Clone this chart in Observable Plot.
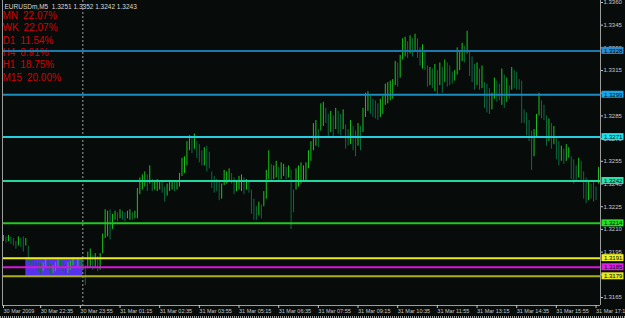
<!DOCTYPE html>
<html><head><meta charset="utf-8">
<script src="https://cdn.jsdelivr.net/npm/d3@7"></script>
<script src="https://cdn.jsdelivr.net/npm/@observablehq/plot@0.6"></script>
<style>html,body{margin:0;padding:0;background:#070c0a;overflow:hidden}</style>
</head><body><div id="chart"></div>
<script>
// ---- data ----
const symbol = "EURUSDm,M5";
const lastBar = ["1.3251", "1.3352", "1.3242", "1.3243"];
const timeframes = ["MN", "WK", "D1", "H4", "H1", "M15"];
const percents = ["22.07%", "22.07%", "11.54%", "8.91%", "18.75%", "20.00%"];

// bar times: minutes from 30 Mar 00:00, M5 bars starting 30 Mar 21:20
const firstBarMinute = 1280;
const barStep = 5;
// bar highs / lows in pips (3206 = 1.3206)
const highs = [
 3206,3205,3206,3205,3204,3202,3205,3204,3205,3204,
 3199,3191,3190,3189,3188,3187,3188,3190,3189,3187,
 3186,3188,3191,3190,3189,3187,3188,3189,3191,3190,
 3191,3190,3189,3186,3195,3197,3193,3194,3192,3194,
 3207,3223,3222,3223,3220,3222,3221,3223,3222,3221,
 3222,3223,3221,3222,3237,3244,3246,3248,3246,3252,
 3243,3242,3243,3242,3241,3238,3240,3241,3242,3241,
 3242,3247,3257,3258,3268,3272,3270,3273,3268,3266,
 3262,3264,3265,3261,3248,3245,3243,3241,3240,3249,
 3248,3250,3247,3244,3242,3245,3246,3244,3243,3241,
 3236,3230,3225,3228,3226,3235,3249,3262,3253,3252,
 3255,3251,3254,3253,3251,3252,3249,3236,3250,3252,
 3254,3252,3254,3262,3268,3280,3282,3276,3293,3294,
 3290,3286,3288,3285,3290,3288,3286,3289,3279,3276,
 3282,3278,3275,3280,3278,3290,3300,3301,3298,3296,
 3295,3293,3296,3298,3306,3307,3308,3309,3321,3320,
 3325,3336,3337,3334,3338,3336,3339,3336,3330,3332,
 3328,3318,3317,3316,3319,3315,3320,3317,3322,3320,
 3318,3314,3315,3330,3328,3333,3331,3341,3328,3324,
 3319,3320,3316,3318,3307,3306,3303,3300,3310,3308,
 3306,3316,3312,3310,3305,3317,3315,3314,3309,3308,
 3289,3287,3282,3275,3276,3286,3300,3295,3292,3285,
 3283,3280,3278,3270,3268,3265,3263,3266,3264,3258,
 3256,3252,3257,3255,3248,3244,3242,3240,3241,3238,
 3251];
const lows = [
 3202,3201,3202,3200,3199,3197,3199,3198,3195,3199,
 3188,3186,3185,3184,3182,3180,3182,3185,3183,3180,
 3181,3182,3185,3184,3182,3180,3181,3183,3186,3184,
 3185,3184,3183,3173,3184,3185,3183,3184,3182,3183,
 3194,3204,3205,3203,3210,3216,3215,3217,3216,3215,
 3217,3216,3216,3217,3217,3233,3236,3238,3235,3240,
 3235,3236,3235,3236,3234,3228,3232,3235,3236,3235,
 3236,3238,3245,3247,3252,3262,3260,3263,3257,3254,
 3252,3252,3248,3250,3237,3234,3235,3229,3230,3239,
 3240,3241,3240,3233,3235,3236,3235,3233,3236,3234,
 3220,3216,3216,3219,3217,3225,3230,3243,3242,3243,
 3244,3242,3243,3245,3243,3244,3210,3221,3236,3238,
 3240,3242,3241,3250,3255,3262,3265,3264,3275,3278,
 3280,3271,3274,3270,3276,3273,3272,3276,3263,3265,
 3266,3262,3258,3265,3262,3274,3284,3288,3286,3284,
 3283,3282,3284,3286,3292,3293,3295,3296,3305,3304,
 3310,3322,3324,3323,3326,3324,3327,3323,3318,3316,
 3315,3304,3305,3303,3301,3299,3305,3300,3307,3304,
 3305,3306,3308,3312,3315,3321,3320,3326,3311,3307,
 3302,3305,3302,3303,3290,3287,3286,3289,3296,3294,
 3295,3292,3290,3294,3296,3302,3303,3302,3302,3280,
 3280,3272,3268,3249,3258,3271,3285,3283,3282,3265,
 3268,3263,3266,3256,3252,3255,3253,3255,3257,3243,
 3240,3242,3244,3241,3230,3227,3229,3230,3228,3229,
 3240];

const levelPrices = [1.3328, 1.3299, 1.3271, 1.3242, 1.3214, 1.3191, 1.3185, 1.3179];
const boxTimes = [1325, 1440];          // 30 Mar 22:05 .. 31 Mar 00:00
const boxPrices = [1.3179, 1.3191];
const daySeparator = 1440;              // 31 Mar 00:00
const priceTicks = [1.3360,1.3345,1.3330,1.3315,1.3300,1.3285,1.3270,1.3255,1.3240,1.3225,1.3210,1.3195,1.3180,1.3165];
const timeTicks = [1280,1355,1435,1515,1595,1675,1755,1835,1915,1995,2075,2155,2235,2315,2395,2475];
const timeLabels = ["30 Mar 2009","30 Mar 22:35","30 Mar 23:55","31 Mar 01:15","31 Mar 02:35","31 Mar 03:55",
  "31 Mar 05:15","31 Mar 06:35","31 Mar 07:55","31 Mar 09:15","31 Mar 10:35","31 Mar 11:55",
  "31 Mar 13:15","31 Mar 14:35","31 Mar 15:55","31 Mar 17:15"];

// ---- styles ----
const lineColors = ["#1b7aab","#1a8cc0","#24cfe0","#1fd9a0","#22c922","#ecec14","#dc14dc","#aeae12"];
const boxColors  = ["#2a8fd2","#12aaec","#18e2ee","#2ee0aa","#26e026","#f0f028","#e020e0","#e6e624"];
const upColor = "#1cc41c", downColor = "#0d6a42";
const axisColor = "#c8c8c8", borderColor = "#9c9c9c";

// ---- derived tables ----
const bars = highs.map((h, i) => ({
  t: firstBarMinute + barStep * i,
  hi: 1 + h / 10000,
  lo: 1 + lows[i] / 10000,
  up: i === 0 || (h + lows[i]) >= (highs[i - 1] + lows[i - 1])
}));
const xDomain = [1278, 2484];
const yDomain = [1.31597, 1.33613];
const labelMap = new Map(timeTicks.map((t, i) => [t, timeLabels[i]]));
const boxRow = [{x1: boxTimes[0], x2: boxTimes[1], y1: boxPrices[0], y2: boxPrices[1]}];
const perfText = timeframes.map((tf, i) => tf + "\u2002" + percents[i]).join("\n");
const headerText = symbol + "  " + lastBar.join(" ");

const plot = Plot.plot({
  width: 625, height: 318,
  marginLeft: 2, marginRight: 25, marginTop: 0, marginBottom: 13,
  style: {background: "#070c0a", color: axisColor, fontFamily: "'Liberation Sans', Arial, sans-serif", overflow: "visible"},
  x: {type: "linear", domain: xDomain},
  y: {domain: yDomain},
  marks: [
    Plot.rect(boxRow, {x1: "x1", x2: "x2", y1: "y1", y2: "y2", fill: "#5533ee"}),
    Plot.ruleX([daySeparator], {stroke: "#a0a0a0", strokeDasharray: "2,2"}),
    Plot.ruleX(bars.filter(d => d.up), {x: "t", y1: "lo", y2: "hi", stroke: upColor, strokeWidth: 1}),
    Plot.ruleX(bars.filter(d => !d.up), {x: "t", y1: "lo", y2: "hi", stroke: downColor, strokeWidth: 1}),
    Plot.text([headerText], {frameAnchor: "top-left", dx: 2, dy: 3.5, fontSize: 6.5, fill: "#d8d8d8"}),
    Plot.text([perfText], {frameAnchor: "top-left", dx: 0, dy: 9.5, fontSize: 10, lineHeight: 1.24, fill: "#d40000"}),
    ...levelPrices.map((v, i) => Plot.ruleY([v], {stroke: lineColors[i], strokeWidth: 2})),
    Plot.ruleX(xDomain, {stroke: borderColor}),
    Plot.ruleY([yDomain[0]], {stroke: borderColor}),
    Plot.ruleY([yDomain[0]], {dy: 11.5, insetLeft: -2, insetRight: -25, stroke: "#d0d0d0", strokeDasharray: "1,1", strokeWidth: 1.5}),
    Plot.axisY(priceTicks, {anchor: "right", tickFormat: d => d.toFixed(4), tickSize: 2, tickPadding: 1, fontSize: 6}),
    Plot.axisX(timeTicks, {anchor: "bottom", tickFormat: d => labelMap.get(d), textAnchor: "start", tickSize: 3, tickPadding: 0.5, fontSize: 5.5}),
    ...levelPrices.map((v, i) => Plot.rect([v], {x1: () => xDomain[1], x2: () => xDomain[1], y1: d => d, y2: d => d,
        insetLeft: 1.5, insetRight: -23.5, insetTop: -3.5, insetBottom: -3.5, fill: boxColors[i]})),
    Plot.text(levelPrices, {x: () => xDomain[1], y: d => d, text: d => d.toFixed(4), dx: 3.5, textAnchor: "start", fill: "#000", fontSize: 6})
  ]
});
document.getElementById("chart").appendChild(plot);
</script></body></html>
